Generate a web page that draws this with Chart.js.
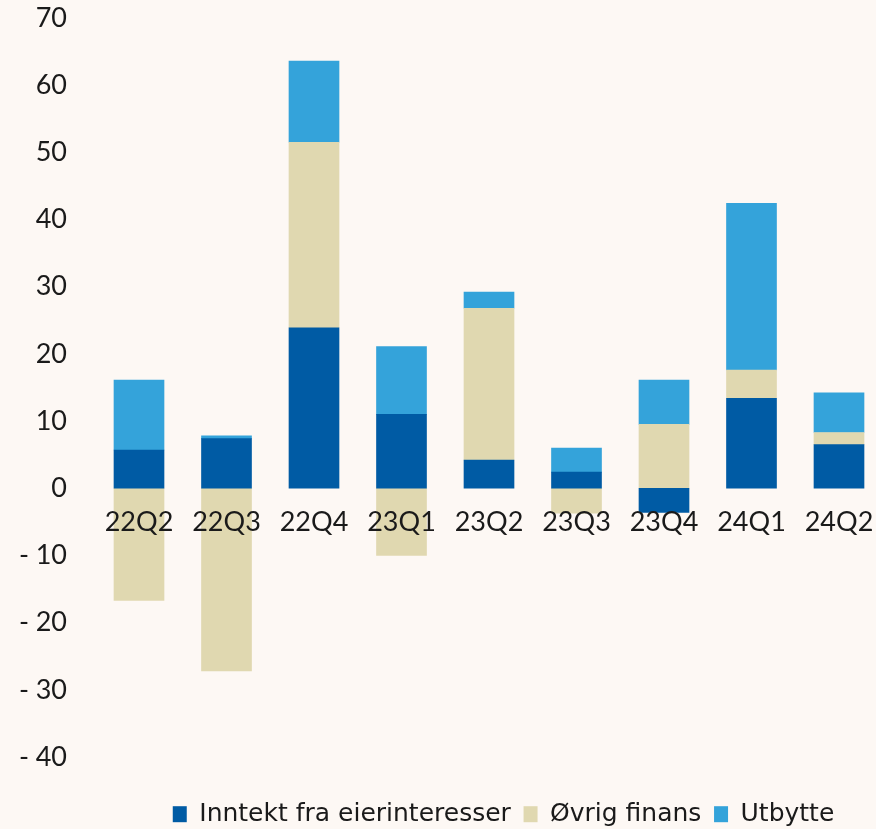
<!DOCTYPE html>
<html>
<head>
<meta charset="utf-8">
<script src="https://cdn.jsdelivr.net/npm/chart.js@4.4.1/dist/chart.umd.min.js"></script>
<style>
  html, body { margin: 0; padding: 0; background: #fdf8f4; }
  #wrap { width: 876px; height: 829px; }
</style>
</head>
<body>
<div id="wrap"><canvas id="chart" width="876" height="829"></canvas></div>
<script>
// Données (mrd. kr per kvartal)
const kvartaler = ['22Q2', '22Q3', '22Q4', '23Q1', '23Q2', '23Q3', '23Q4', '24Q1', '24Q2'];
const inntektEierinteresser = [5.7, 7.4, 23.9, 11.0, 4.2, 2.4, -3.6, 13.4, 6.5];
const ovrigFinans = [-16.7, -27.2, 27.6, -10.0, 22.6, -3.7, 9.5, 4.2, 1.8];
const utbytte = [10.4, 0.4, 12.1, 10.1, 2.4, 3.6, 6.6, 24.8, 5.9];

const fontFamily = 'Lato, "Open Sans", sans-serif';
const textColor = '#1a1a1a';

// Hauteur fixe de la légende (+ évite le retour à la ligne en align 'end')
const legendHeight = {
    id: 'legendHeight',
    beforeInit(chart) {
        const fit = chart.legend.fit;
        chart.legend.fit = function () {
            fit.call(this);
            this.lineWidths = this.lineWidths.map(w => w + 1);
            this.height = 72;
        };
    }
};

new Chart(document.getElementById('chart'), {
    type: 'bar',
    data: {
        labels: kvartaler,
        datasets: [
            { label: 'Inntekt fra eierinteresser', data: inntektEierinteresser, backgroundColor: '#005ba4' },
            { label: 'Øvrig finans', data: ovrigFinans, backgroundColor: '#e0d8b0' },
            { label: 'Utbytte', data: utbytte, backgroundColor: '#34a3da' }
        ]
    },
    options: {
        responsive: false,
        animation: false,
        layout: { padding: { top: 18, right: 28, left: 0, bottom: 0 } },
        datasets: { bar: { barThickness: 50, clip: false } },
        scales: {
            x: {
                stacked: true,
                offset: false,
                position: { y: 0 },
                grid: { display: false, drawTicks: false },
                border: { display: false },
                afterFit(scale) {
                    scale.height = 0;
                    scale.paddingLeft = 0;
                    scale.paddingRight = 37;
                },
                ticks: {
                    z: 1,
                    color: textColor,
                    padding: 18,
                    maxRotation: 0,
                    font: { family: fontFamily, size: 27 }
                }
            },
            y: {
                stacked: true,
                min: -40,
                max: 70,
                grid: { display: false, drawTicks: false },
                border: { display: false },
                afterFit(scale) {
                    scale.width = 139;
                    scale.paddingTop = 16;
                    scale.paddingBottom = 0;
                },
                ticks: {
                    stepSize: 10,
                    padding: 72,
                    color: textColor,
                    font: { family: fontFamily, size: 27 },
                    callback: (v) => v < 0 ? '-\u2005' + Math.abs(v) : String(v)
                }
            }
        },
        plugins: {
            tooltip: { enabled: false },
            legend: {
                position: 'bottom',
                align: 'end',
                title: { display: true, text: '', padding: 0, font: { size: 32, lineHeight: 1 } },
                labels: {
                    color: textColor,
                    boxWidth: 14,
                    boxHeight: 16,
                    padding: 12.7,
                    font: { family: '"DejaVu Sans", sans-serif', size: 25 }
                }
            }
        }
    },
    plugins: [legendHeight]
});
</script>
</body>
</html>
